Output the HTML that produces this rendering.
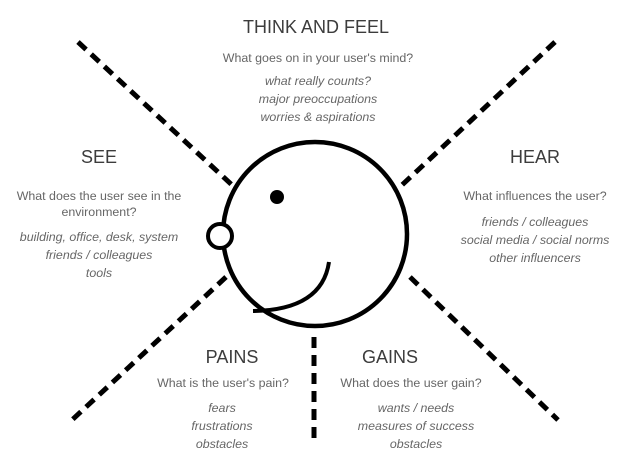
<!DOCTYPE html>
<html><head><style>
body{margin:0;background:#fff}
svg{display:block}
text{font-family:"Liberation Sans",sans-serif;text-anchor:middle}
.t{font-size:18px;fill:#3c3c3c}
.s{font-size:12.4px;fill:#666}
.i{font-size:12.4px;fill:#666;font-style:italic}
</style></head><body>
<svg width="623" height="460" viewBox="0 0 623 460">
<g stroke="#000" stroke-width="5" stroke-dasharray="11 7" fill="none">
<line x1="78" y1="42" x2="232" y2="185"/>
<line x1="555" y1="42" x2="402" y2="185"/>
<line x1="226" y1="277" x2="72" y2="420"/>
<line x1="410" y1="277" x2="558" y2="420"/>
<line x1="314" y1="337" x2="314" y2="440"/>
</g>
<circle cx="315" cy="234" r="92" fill="#fff" stroke="#000" stroke-width="4.5"/>
<circle cx="220" cy="236" r="12" fill="#fff" stroke="#000" stroke-width="4"/>
<circle cx="277" cy="197" r="7" fill="#000"/>
<path d="M253 311 Q322 310 329 262" fill="none" stroke="#000" stroke-width="4"/>
<text class="t" x="316" y="33">THINK AND FEEL</text>
<text class="s" x="318" y="62">What goes on in your user's mind?</text>
<text class="i" x="318" y="85">what really counts?</text>
<text class="i" x="318" y="103">major preoccupations</text>
<text class="i" x="318" y="121">worries &amp; aspirations</text>
<text class="t" x="99" y="163">SEE</text>
<text class="s" x="99" y="200">What does the user see in the</text>
<text class="s" x="99" y="216">environment?</text>
<text class="i" x="99" y="241">building, office, desk, system</text>
<text class="i" x="99" y="259">friends / colleagues</text>
<text class="i" x="99" y="277">tools</text>
<text class="t" x="535" y="163">HEAR</text>
<text class="s" x="535" y="200">What influences the user?</text>
<text class="i" x="535" y="226">friends / colleagues</text>
<text class="i" x="535" y="244">social media / social norms</text>
<text class="i" x="535" y="262">other influencers</text>
<text class="t" x="232" y="363">PAINS</text>
<text class="s" x="223" y="387">What is the user's pain?</text>
<text class="i" x="222" y="412">fears</text>
<text class="i" x="222" y="430">frustrations</text>
<text class="i" x="222" y="448">obstacles</text>
<text class="t" x="390" y="363">GAINS</text>
<text class="s" x="411" y="387">What does the user gain?</text>
<text class="i" x="416" y="412">wants / needs</text>
<text class="i" x="416" y="430">measures of success</text>
<text class="i" x="416" y="448">obstacles</text>
</svg>
</body></html>
